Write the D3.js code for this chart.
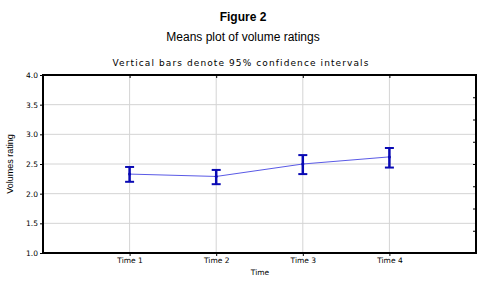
<!DOCTYPE html>
<html>
<head>
<meta charset="utf-8">
<script src="https://cdn.jsdelivr.net/npm/d3@7"></script>
<style>
  body { margin: 0; background: #fff; }
  svg { display: block; }
</style>
</head>
<body>
<div id="chart"></div>
<script>
// Means plot data
const times = ['Time 1', 'Time 2', 'Time 3', 'Time 4'];
const means = [2.33, 2.29, 2.50, 2.62];
const ciLow = [2.20, 2.16, 2.33, 2.44];
const ciHigh = [2.45, 2.40, 2.65, 2.77];
const yTicks = [1.0, 1.5, 2.0, 2.5, 3.0, 3.5, 4.0];

const width = 486;
const height = 282;
const margin = { top: 75, right: 10, bottom: 29, left: 43 };
const innerW = width - margin.left - margin.right;
const innerH = height - margin.top - margin.bottom;

const svg = d3.select('#chart')
  .append('svg')
  .attr('width', width)
  .attr('height', height);

// Titles
svg.append('text')
  .attr('x', 243).attr('y', 21)
  .attr('text-anchor', 'middle')
  .attr('font-family', 'Liberation Sans, Arial, sans-serif')
  .attr('font-weight', 'bold')
  .attr('font-size', '12px')
  .text('Figure 2');

svg.append('text')
  .attr('x', 243).attr('y', 41)
  .attr('text-anchor', 'middle')
  .attr('font-family', 'Liberation Sans, Arial, sans-serif')
  .attr('font-size', '12px')
  .text('Means plot of volume ratings');

svg.append('text')
  .attr('x', 241).attr('y', 66)
  .attr('text-anchor', 'middle')
  .attr('font-family', 'DejaVu Sans, Verdana, sans-serif')
  .attr('font-size', '9px')
  .attr('letter-spacing', '1.1px')
  .text('Vertical bars denote 95% confidence intervals');

const g = svg.append('g')
  .attr('transform', `translate(${margin.left},${margin.top})`);

// x: categories at 1..4 on a 0..5 range
const x = d3.scaleLinear().domain([0, 5]).range([0, innerW]);
const y = d3.scaleLinear().domain([1, 4]).range([innerH, 0]);
// right axis has unlabelled minor ticks
const yRight = d3.scaleLinear().domain([0, 8]).range([innerH, 0]);

// Grid
g.selectAll('.hgrid')
  .data(yTicks.slice(1, -1))
  .enter().append('line')
  .attr('x1', 0).attr('x2', innerW)
  .attr('y1', d => y(d)).attr('y2', d => y(d))
  .attr('stroke', '#d4d4d4').attr('stroke-width', 1);

g.selectAll('.vgrid')
  .data(times)
  .enter().append('line')
  .attr('x1', (d, i) => x(i + 1)).attr('x2', (d, i) => x(i + 1))
  .attr('y1', 0).attr('y2', innerH)
  .attr('stroke', '#d4d4d4').attr('stroke-width', 1);

// Left axis
const yAxis = g.append('g')
  .call(d3.axisLeft(y).tickValues(yTicks).tickFormat(d3.format('.1f')).tickSize(3).tickPadding(2));
yAxis.select('.domain').remove();
yAxis.selectAll('text')
  .attr('font-family', 'DejaVu Sans, Verdana, sans-serif')
  .attr('font-size', '7.5px')
  .attr('fill', '#000');

// Bottom axis
const xAxis = g.append('g')
  .attr('transform', `translate(0,${innerH})`)
  .call(d3.axisBottom(x).tickValues([1, 2, 3, 4]).tickFormat(d => times[d - 1]).tickSize(3).tickPadding(2));
xAxis.select('.domain').remove();
xAxis.selectAll('text')
  .attr('font-family', 'DejaVu Sans, Verdana, sans-serif')
  .attr('font-size', '7.5px')
  .attr('fill', '#000');

// Top ticks
g.append('g')
  .call(d3.axisTop(x).tickValues([1, 2, 3, 4]).tickSize(-3).tickFormat(''))
  .select('.domain').remove();

// Right ticks
g.append('g')
  .attr('transform', `translate(${innerW},0)`)
  .call(d3.axisRight(yRight).tickValues(d3.range(1, 8)).tickSize(-3).tickFormat(''))
  .select('.domain').remove();

// Frame
g.append('rect')
  .attr('x', 0).attr('y', 0)
  .attr('width', innerW).attr('height', innerH)
  .attr('fill', 'none')
  .attr('stroke', '#000')
  .attr('stroke-width', 2);

// Axis titles
svg.append('text')
  .attr('transform', `translate(13,${margin.top + y(2.5)}) rotate(-90)`)
  .attr('text-anchor', 'middle')
  .attr('font-family', 'Liberation Sans Narrow, Liberation Sans, sans-serif')
  .attr('font-size', '9px')
  .text('Volumes rating');

svg.append('text')
  .attr('x', 260).attr('y', 275)
  .attr('text-anchor', 'middle')
  .attr('font-family', 'DejaVu Sans, Verdana, sans-serif')
  .attr('font-size', '7.5px')
  .text('Time');

// Mean line
const line = d3.line()
  .x((d, i) => x(i + 1))
  .y(d => y(d));

g.append('path')
  .datum(means)
  .attr('d', line)
  .attr('fill', 'none')
  .attr('stroke', '#5a5ae6')
  .attr('stroke-width', 1);

// Error bars
const bars = g.selectAll('.ci')
  .data(times)
  .enter().append('g')
  .attr('stroke', '#0a0ab4')
  .attr('stroke-width', 2.5);

bars.append('line')
  .attr('x1', (d, i) => x(i + 1)).attr('x2', (d, i) => x(i + 1))
  .attr('y1', (d, i) => y(ciLow[i])).attr('y2', (d, i) => y(ciHigh[i]));
bars.append('line')
  .attr('x1', (d, i) => x(i + 1) - 4.5).attr('x2', (d, i) => x(i + 1) + 4.5)
  .attr('y1', (d, i) => y(ciLow[i])).attr('y2', (d, i) => y(ciLow[i]))
  .attr('stroke-width', 2);
bars.append('line')
  .attr('x1', (d, i) => x(i + 1) - 4.5).attr('x2', (d, i) => x(i + 1) + 4.5)
  .attr('y1', (d, i) => y(ciHigh[i])).attr('y2', (d, i) => y(ciHigh[i]))
  .attr('stroke-width', 2);

// Mean markers
g.selectAll('.pt')
  .data(means)
  .enter().append('circle')
  .attr('cx', (d, i) => x(i + 1))
  .attr('cy', d => y(d))
  .attr('r', 1.5)
  .attr('fill', '#0a0ab4');
</script>
</body>
</html>
